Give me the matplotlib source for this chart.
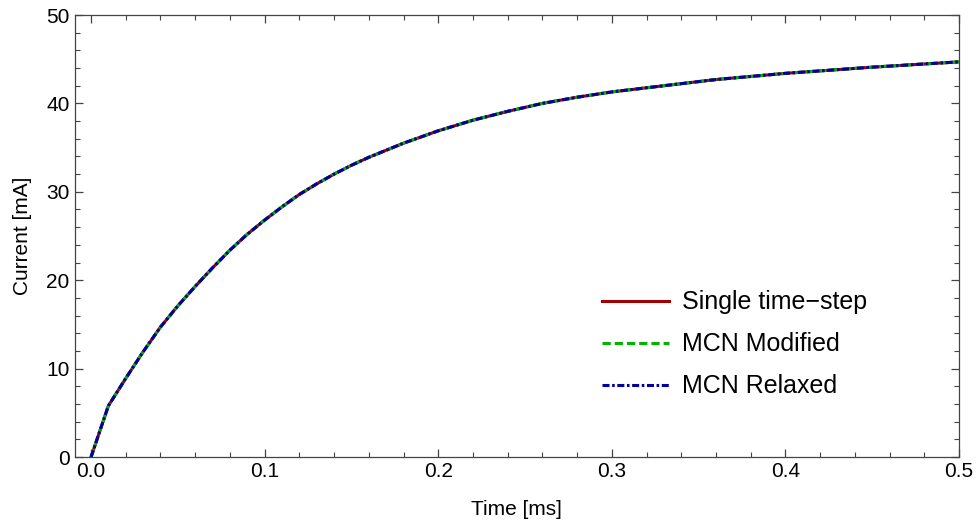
import matplotlib
matplotlib.use("Agg")
import matplotlib.pyplot as plt
from matplotlib.ticker import MultipleLocator, FormatStrFormatter

# values (time in ms, current in mA)
time_ms = [0.00, 0.01, 0.02, 0.03, 0.04, 0.05, 0.06, 0.07, 0.08, 0.09, 0.10,
           0.11, 0.12, 0.13, 0.14, 0.15, 0.16, 0.17, 0.18, 0.19, 0.20,
           0.22, 0.24, 0.26, 0.28, 0.30, 0.33, 0.36, 0.40, 0.45, 0.50]
single_step = [0.0, 5.8, 8.9, 11.9, 14.7, 17.1, 19.3, 21.4, 23.4, 25.2, 26.8,
               28.3, 29.7, 30.9, 32.0, 33.0, 33.9, 34.7, 35.5, 36.2, 36.9,
               38.1, 39.1, 40.0, 40.7, 41.3, 42.0, 42.7, 43.4, 44.1, 44.7]
mcn_modified = list(single_step)
mcn_relaxed = list(single_step)

labels = ["Single time\u2212step", "MCN Modified", "MCN Relaxed"]

plt.rcParams["font.family"] = ["Liberation Sans", "DejaVu Sans"]

fig = plt.figure(figsize=(9.77, 5.21), dpi=100)
ax = fig.add_axes([0.0763, 0.1228, 0.9053, 0.8484])

ax.plot(time_ms, single_step, color="#a00000", lw=2.2, ls="-", label=labels[0])
ax.plot(time_ms, mcn_modified, color="#00b400", lw=2.2, ls=(0, (2.7, 1.3)), label=labels[1])
ax.plot(time_ms, mcn_relaxed, color="#0000a0", lw=2.2,
        ls=(0, (2.3, 0.85, 0.85, 0.85)), label=labels[2])

ax.set_xlim(-0.0095, 0.5)
ax.set_ylim(0, 50)

ax.xaxis.set_major_locator(MultipleLocator(0.1))
ax.xaxis.set_minor_locator(MultipleLocator(0.02))
ax.yaxis.set_major_locator(MultipleLocator(10))
ax.yaxis.set_minor_locator(MultipleLocator(2))
ax.xaxis.set_major_formatter(FormatStrFormatter("%.1f"))

ax.tick_params(which="both", direction="in", top=True, right=True,
               labelsize=15, color="#444444")
ax.tick_params(which="major", length=6, width=0.9)
ax.tick_params(which="minor", length=3.5, width=0.8)
for s in ax.spines.values():
    s.set_color("#444444")
    s.set_linewidth(0.9)

ax.set_xlabel("Time [ms]", fontsize=15, labelpad=14)
ax.set_ylabel("Current [mA]", fontsize=15, labelpad=10)

ax.legend(loc="lower right", bbox_to_anchor=(0.921, 0.082), frameon=False,
          fontsize=18, handlelength=2.7, handletextpad=0.5, labelspacing=0.72)

fig.savefig("out.png", dpi=100)
